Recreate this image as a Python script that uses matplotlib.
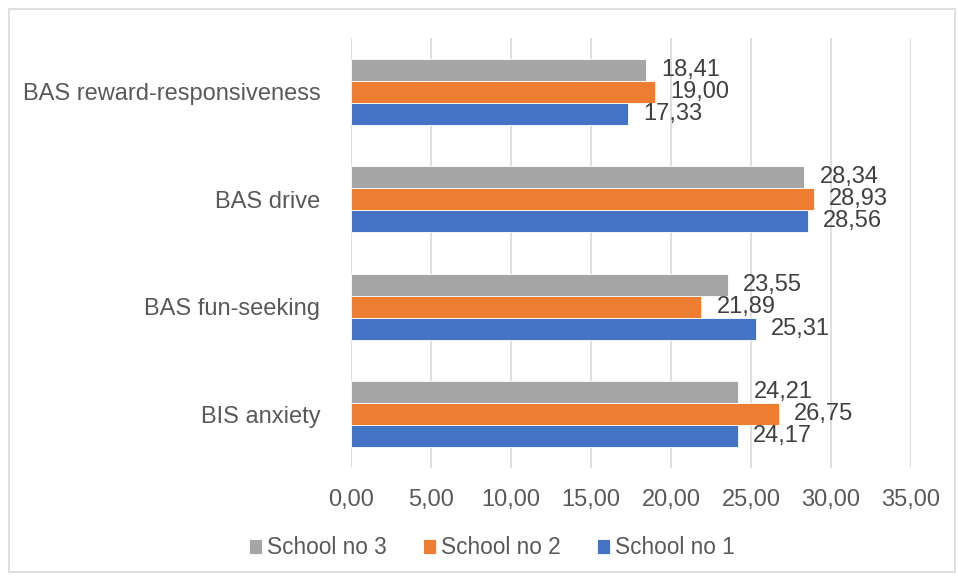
import matplotlib.pyplot as plt
import numpy as np
from matplotlib.patches import Rectangle

plt.rcParams['font.family'] = ['Liberation Sans', 'DejaVu Sans']

categories = ["BIS anxiety", "BAS fun-seeking", "BAS drive", "BAS reward-responsiveness"]
series_names = ["School no 1", "School no 2", "School no 3"]
school1 = [24.17, 25.31, 28.56, 17.33]
school2 = [26.75, 21.89, 28.93, 19.00]
school3 = [24.21, 23.55, 28.34, 18.41]
colors = ["#4472C4", "#ED7D31", "#A5A5A5"]

fs = 17

fig = plt.figure(figsize=(9.58, 5.77), dpi=100)
fig.patches.append(Rectangle((9 / 958, 5 / 577), 946 / 958, 563 / 577, transform=fig.transFigure,
                             fill=False, edgecolor="#D9D9D9", linewidth=1.2))
ax = fig.add_axes([351 / 958, 1 - 468 / 577, 560 / 958, 430 / 577])

y = np.arange(len(categories))
h = 0.205
offsets = [-h, 0, h]
for vals, name, col, off in zip([school1, school2, school3], series_names, colors, offsets):
    bars = ax.barh(y + off, vals, height=h, color=col, edgecolor="white", linewidth=0.6, label=name, zorder=3)
    for b, v in zip(bars, vals):
        ax.text(v + 0.95, b.get_y() + b.get_height() / 2, f"{v:.2f}".replace(".", ","),
                va="center", ha="left", fontsize=fs, color="#404040", zorder=4)

ax.set_xlim(0, 35)
ax.set_ylim(-0.5, len(categories) - 0.5)
xt = np.arange(0, 36, 5)
ax.set_xticks(xt)
ax.set_xticklabels([f"{v:.2f}".replace(".", ",") for v in xt], fontsize=fs, color="#595959")
ax.set_yticks(y)
ax.set_yticklabels(categories, fontsize=fs, color="#595959")
ax.tick_params(axis="x", length=0, pad=15)
ax.tick_params(axis="y", length=0, pad=22)
ax.grid(axis="x", color="#D9D9D9", linewidth=1.2, zorder=0)
for s in ax.spines.values():
    s.set_visible(False)

handles, labels = ax.get_legend_handles_labels()
fig.legend(handles[::-1], labels[::-1], loc="center", bbox_to_anchor=(0.513, 1 - 548 / 577), ncol=3,
           frameon=False, fontsize=16.3, handlelength=0.6, handleheight=0.6, handletextpad=0.2,
           columnspacing=1.6, labelcolor="#595959")

fig.savefig("out.png", dpi=100)
